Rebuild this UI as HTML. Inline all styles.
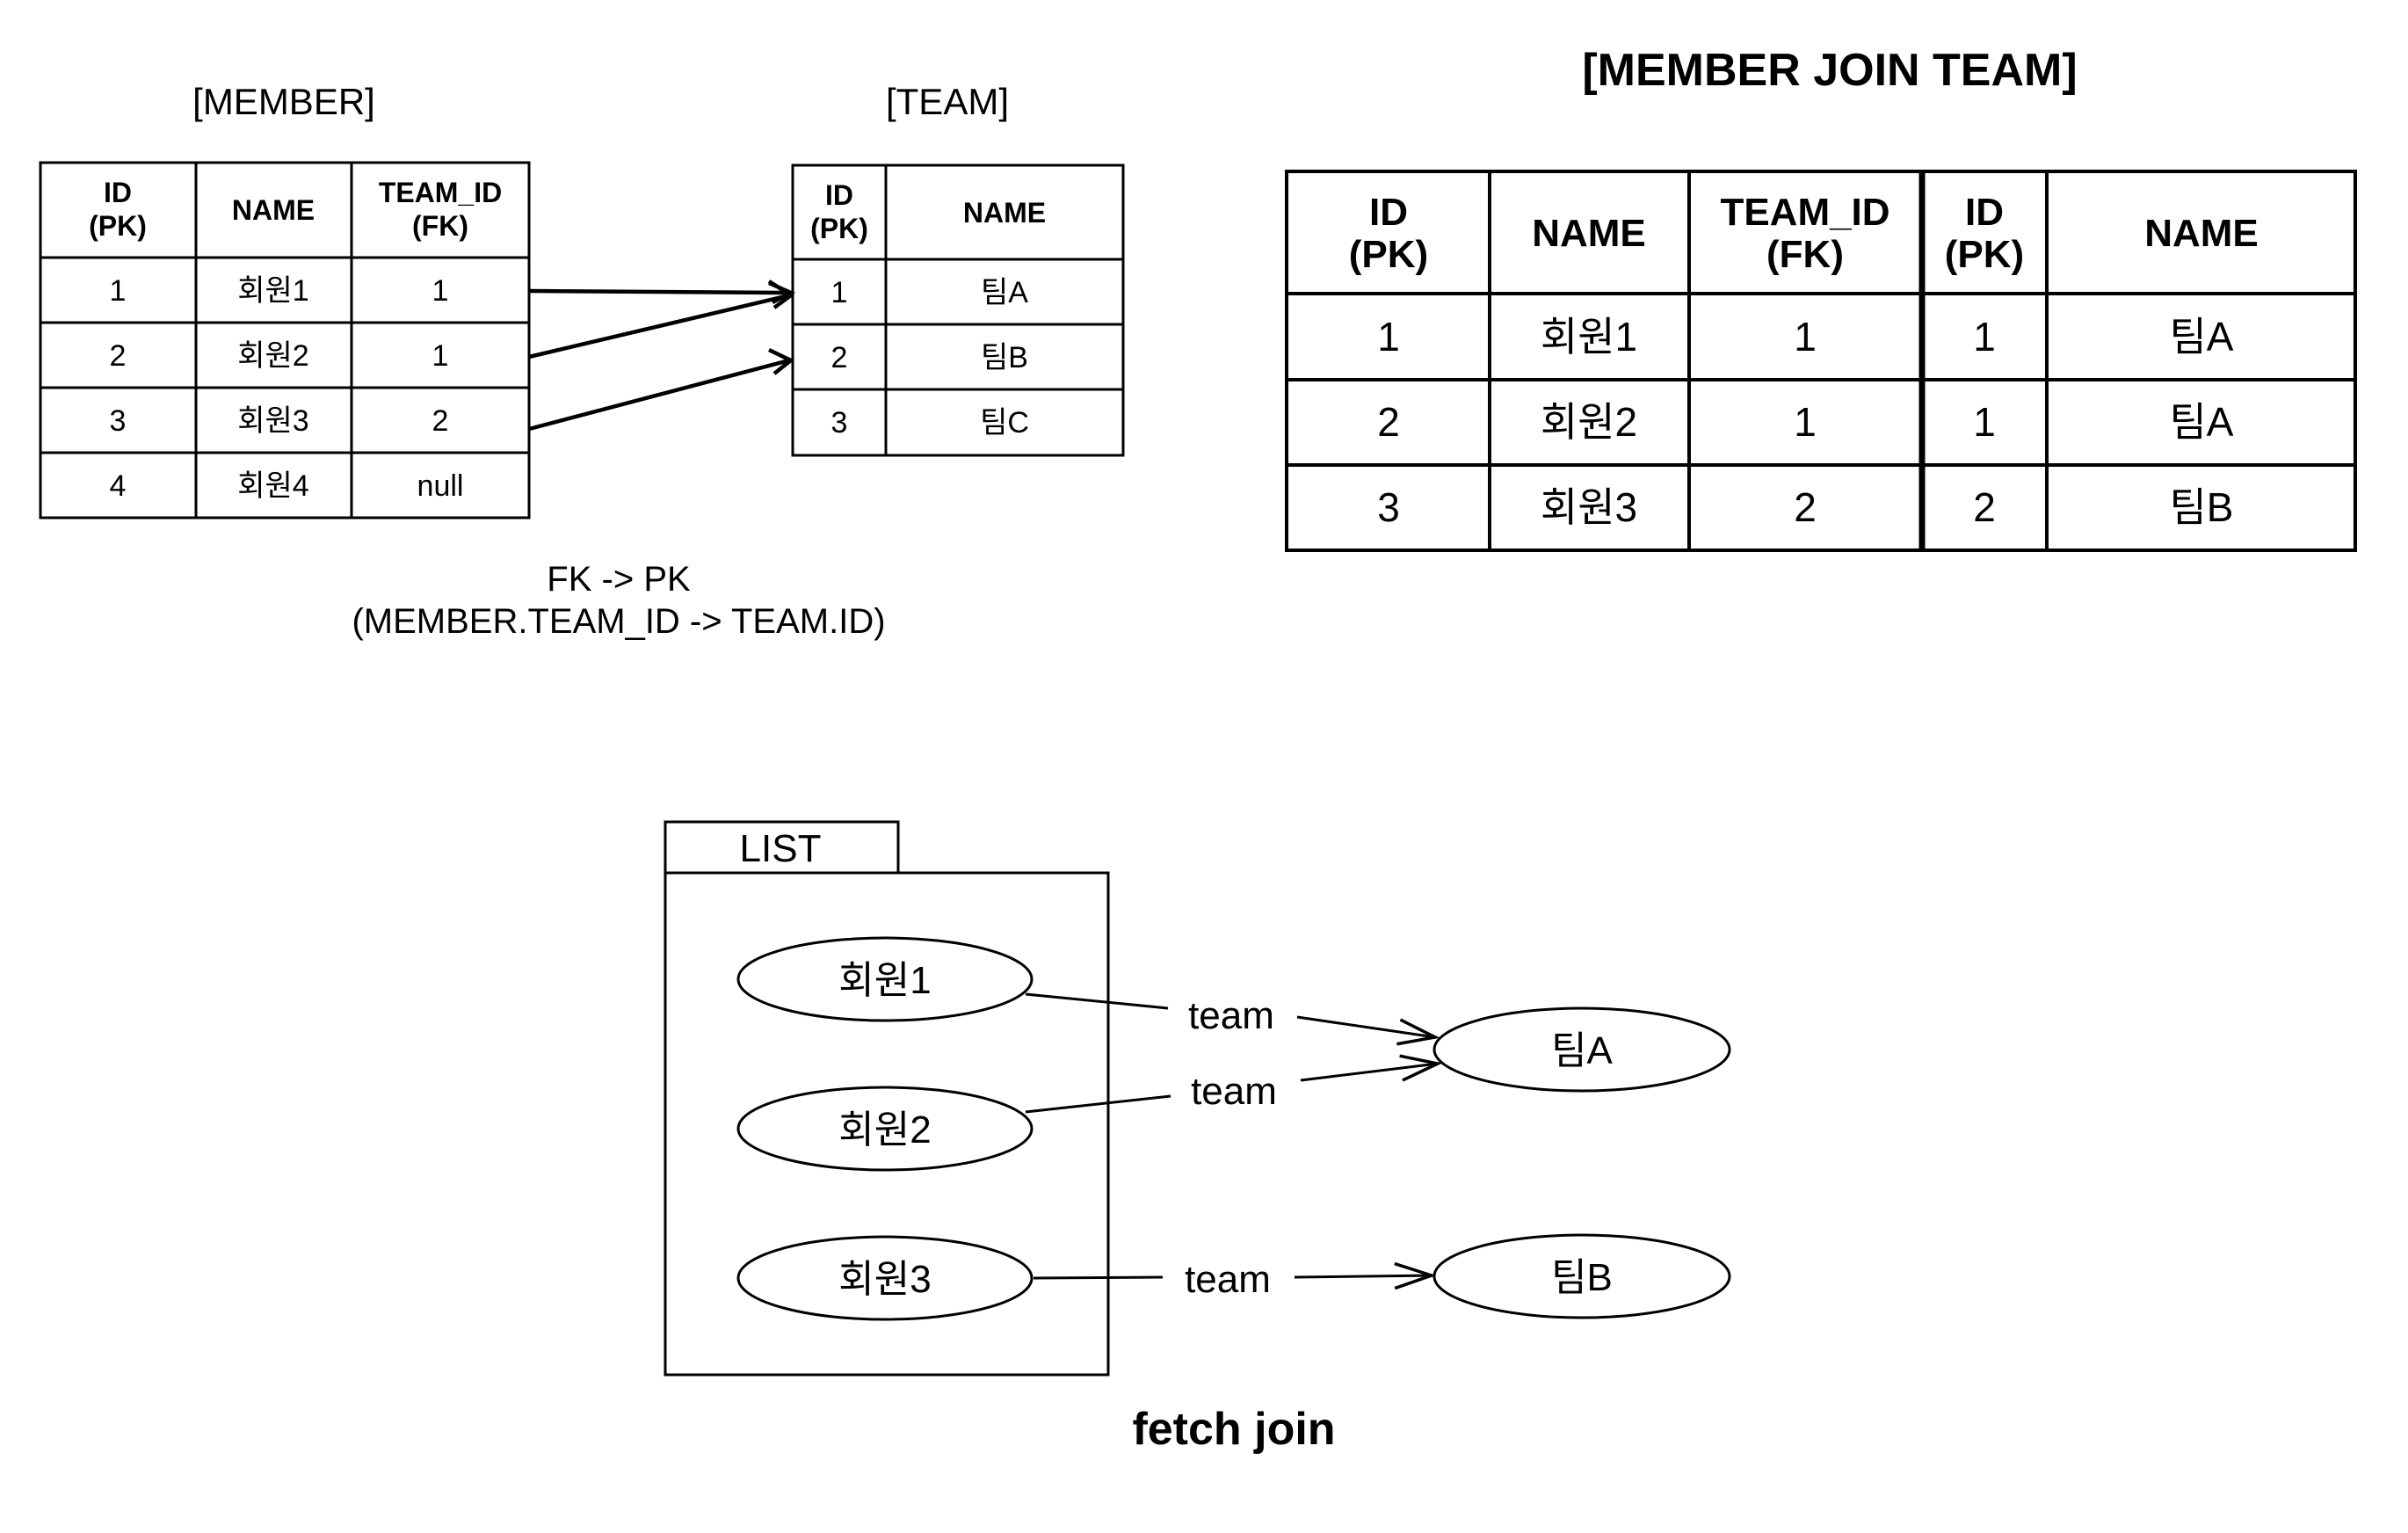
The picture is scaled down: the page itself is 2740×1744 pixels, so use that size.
<!DOCTYPE html>
<html><head><meta charset="utf-8"><style>
html,body{margin:0;padding:0;background:#fff;}
svg{display:block;font-family:"Liberation Sans","Noto Sans CJK KR",sans-serif;}
</style></head><body>
<svg width="2740" height="1744" viewBox="0 0 2740 1744" xmlns="http://www.w3.org/2000/svg">
<defs>
<marker id="ao" markerWidth="50" markerHeight="36" refX="46" refY="18" orient="auto" markerUnits="userSpaceOnUse"><path d="M4,4 L46,18 L4,32" fill="none" stroke="#000" stroke-width="3.5"/></marker>
</defs>
<g fill="#000" text-anchor="middle">
<text x="323" y="130" font-size="42">[MEMBER]</text>
<text x="1078" y="130" font-size="42">[TEAM]</text>
<text x="2082" y="97" font-size="52" font-weight="bold">[MEMBER JOIN TEAM]</text>
<text x="704" y="672" font-size="40">FK -&gt; PK</text>
<text x="704" y="720" font-size="40">(MEMBER.TEAM_ID -&gt; TEAM.ID)</text>
</g>
<g stroke="#000" stroke-width="3" fill="none">
<rect x="46" y="185" width="556" height="404"/>
<line x1="223" y1="185" x2="223" y2="589"/><line x1="400" y1="185" x2="400" y2="589"/>
<line x1="46" y1="293" x2="602" y2="293"/><line x1="46" y1="367" x2="602" y2="367"/>
<line x1="46" y1="441" x2="602" y2="441"/><line x1="46" y1="515" x2="602" y2="515"/>
<rect x="902" y="188" width="376" height="330"/>
<line x1="1008" y1="188" x2="1008" y2="518"/>
<line x1="902" y1="295" x2="1278" y2="295"/><line x1="902" y1="369" x2="1278" y2="369"/><line x1="902" y1="443" x2="1278" y2="443"/>
<g stroke-width="4.5">
<line x1="602" y1="331" x2="898" y2="333"/>
<line x1="602" y1="406" x2="898" y2="336"/>
<line x1="602" y1="488" x2="898" y2="410"/>
</g>
</g>
<g stroke="#000" stroke-width="4.5" fill="none">
<path d="M875,322 L900,333 L879,344"/>
<path d="M875,320 L900,336 L881,350"/>
<path d="M875,398 L900,410 L881,425"/>
</g>
<g fill="#000" text-anchor="middle" font-size="34">
<text x="134" y="230" font-weight="bold" font-size="32">ID</text><text x="134" y="268" font-weight="bold" font-size="32">(PK)</text>
<text x="311" y="250" font-weight="bold" font-size="32">NAME</text>
<text x="501" y="230" font-weight="bold" font-size="32">TEAM_ID</text><text x="501" y="268" font-weight="bold" font-size="32">(FK)</text>
<text x="134" y="342">1</text><text x="311" y="342">회원1</text><text x="501" y="342">1</text>
<text x="134" y="416">2</text><text x="311" y="416">회원2</text><text x="501" y="416">1</text>
<text x="134" y="490">3</text><text x="311" y="490">회원3</text><text x="501" y="490">2</text>
<text x="134" y="564">4</text><text x="311" y="564">회원4</text><text x="501" y="564">null</text>
<text x="955" y="233" font-weight="bold" font-size="32">ID</text><text x="955" y="271" font-weight="bold" font-size="32">(PK)</text>
<text x="1143" y="253" font-weight="bold" font-size="32">NAME</text>
<text x="955" y="344">1</text><text x="1143" y="344">팀A</text>
<text x="955" y="418">2</text><text x="1143" y="418">팀B</text>
<text x="955" y="492">3</text><text x="1143" y="492">팀C</text>
</g>
<g stroke="#000" stroke-width="4" fill="none">
<rect x="1464" y="195" width="1216" height="431"/>
<line x1="1695" y1="195" x2="1695" y2="626"/><line x1="1922" y1="195" x2="1922" y2="626"/>
<line x1="2187" y1="195" x2="2187" y2="626" stroke-width="7"/>
<line x1="2329" y1="195" x2="2329" y2="626"/>
<line x1="1464" y1="334" x2="2680" y2="334"/><line x1="1464" y1="432" x2="2680" y2="432"/><line x1="1464" y1="529" x2="2680" y2="529"/>
</g>
<g fill="#000" text-anchor="middle" font-size="46">
<text x="1580" y="256" font-weight="bold" font-size="44">ID</text><text x="1580" y="304" font-weight="bold" font-size="44">(PK)</text>
<text x="1808" y="280" font-weight="bold" font-size="44">NAME</text>
<text x="2054" y="256" font-weight="bold" font-size="44">TEAM_ID</text><text x="2054" y="304" font-weight="bold" font-size="44">(FK)</text>
<text x="2258" y="256" font-weight="bold" font-size="44">ID</text><text x="2258" y="304" font-weight="bold" font-size="44">(PK)</text>
<text x="2505" y="280" font-weight="bold" font-size="44">NAME</text>
<text x="1580" y="399">1</text><text x="1808" y="399">회원1</text><text x="2054" y="399">1</text><text x="2258" y="399">1</text><text x="2505" y="399">팀A</text>
<text x="1580" y="496">2</text><text x="1808" y="496">회원2</text><text x="2054" y="496">1</text><text x="2258" y="496">1</text><text x="2505" y="496">팀A</text>
<text x="1580" y="593">3</text><text x="1808" y="593">회원3</text><text x="2054" y="593">2</text><text x="2258" y="593">2</text><text x="2505" y="593">팀B</text>
</g>
<g transform="translate(-6,-5)">
<g stroke="#000" stroke-width="3" fill="none">
<rect x="763" y="940" width="265" height="58"/>
<rect x="763" y="998" width="504" height="571"/>
<ellipse cx="1013" cy="1119" rx="167" ry="47"/>
<ellipse cx="1013" cy="1289" rx="167" ry="47"/>
<ellipse cx="1013" cy="1459" rx="167" ry="47"/>
<ellipse cx="1806" cy="1199" rx="168" ry="47"/>
<ellipse cx="1806" cy="1457" rx="168" ry="47"/>
<line x1="1173" y1="1136" x2="1335" y2="1152"/>
<line x1="1482" y1="1162" x2="1639" y2="1185" marker-end="url(#ao)"/>
<line x1="1173" y1="1270" x2="1338" y2="1252"/>
<line x1="1486" y1="1234" x2="1642" y2="1215" marker-end="url(#ao)"/>
<line x1="1182" y1="1459" x2="1329" y2="1458"/>
<line x1="1479" y1="1458" x2="1635" y2="1456" marker-end="url(#ao)"/>
</g>
<g fill="#000" text-anchor="middle" font-size="44">
<text x="894" y="985">LIST</text>
<text x="1013" y="1135">회원1</text>
<text x="1013" y="1305">회원2</text>
<text x="1013" y="1475">회원3</text>
<text x="1806" y="1215">팀A</text>
<text x="1806" y="1473">팀B</text>
<text x="1407" y="1175">team</text>
<text x="1410" y="1261">team</text>
<text x="1403" y="1475">team</text>
<text x="1410" y="1648" font-size="52" font-weight="bold">fetch join</text>
</g>
</g>
</svg>
</body></html>
